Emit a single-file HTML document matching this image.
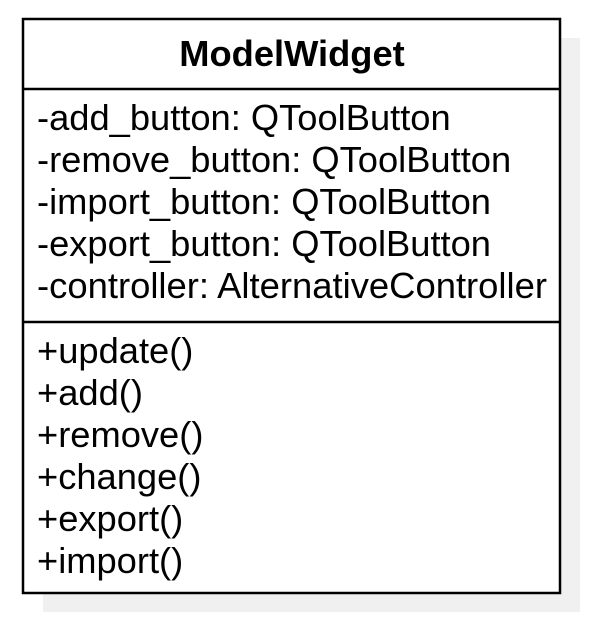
<!DOCTYPE html>
<html><head><meta charset="utf-8"><style>html,body{margin:0;padding:0;background:#fff}svg{display:block}</style></head>
<body>
<svg width="590" height="622" viewBox="0 0 590 622" xmlns="http://www.w3.org/2000/svg" font-family="'Liberation Sans', sans-serif" font-size="36.3" fill="#000">
<rect x="43" y="38" width="537" height="574" fill="#f0f0f0"/>
<rect x="23" y="19" width="537" height="574" fill="#fff" stroke="#000" stroke-width="2.5"/>
<line x1="23" y1="89" x2="560" y2="89" stroke="#000" stroke-width="2.5"/>
<line x1="23" y1="322" x2="560" y2="322" stroke="#000" stroke-width="2.5"/>
<text x="292" y="66" text-anchor="middle" font-weight="bold">ModelWidget</text>
<text x="37" y="130">-add_button: QToolButton</text>
<text x="37" y="172">-remove_button: QToolButton</text>
<text x="37" y="214">-import_button: QToolButton</text>
<text x="37" y="256">-export_button: QToolButton</text>
<text x="37" y="298" textLength="510" lengthAdjust="spacingAndGlyphs">-controller: AlternativeController</text>
<text x="37" y="363">+update()</text>
<text x="37" y="405">+add()</text>
<text x="37" y="447">+remove()</text>
<text x="37" y="489">+change()</text>
<text x="37" y="531">+export()</text>
<text x="37" y="573">+import()</text>
</svg>
</body></html>
